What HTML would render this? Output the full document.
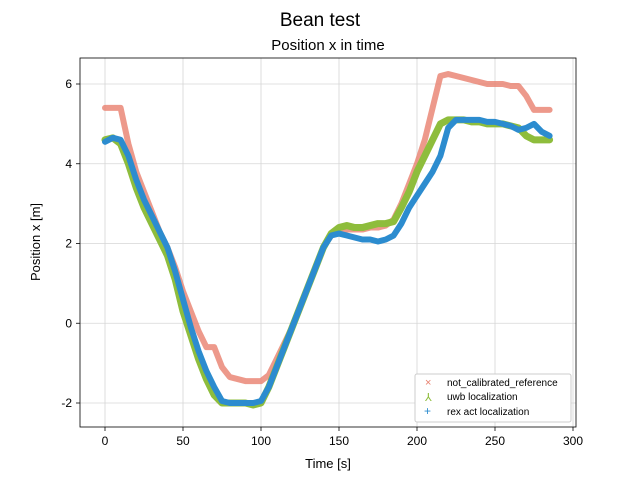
<!DOCTYPE html>
<html><head><meta charset="utf-8"><style>
body{margin:0;background:#fff;}
svg{font-family:"Liberation Sans",sans-serif;display:block}
</style></head><body>
<svg id="c" width="640" height="480">
<text x="320" y="26" text-anchor="middle" font-size="19">Bean test</text>
<text x="328" y="50" text-anchor="middle" font-size="15">Position x in time</text>
<g id="grid"></g><g id="series"></g>
<rect x="80" y="58" width="496" height="369" fill="none" stroke="#000" stroke-width="0.8"/>
<g id="axes"></g>
<text x="328" y="468" text-anchor="middle" font-size="13">Time [s]</text>
<text transform="translate(40,242) rotate(-90)" text-anchor="middle" font-size="13">Position x [m]</text>
<g>
<rect x="415" y="374" width="156" height="48" fill="#fff" stroke="#ccc" rx="2"/>
<text x="425" y="386" fill="#e8806e" font-size="11">×</text>
<text x="447" y="386" font-size="10">not_calibrated_reference</text>
<text x="425" y="401" fill="#8ebd3c" font-size="11">⅄</text>
<text x="447" y="400" font-size="10">uwb localization</text>
<text x="424" y="415" fill="#2c8ccf" font-size="12">+</text>
<text x="447" y="415" font-size="10">rex act localization</text>
</g>
</svg>
<script>
const times=[0,5,10,15,20,25,30,35,40,45,50,55,60,65,70,75,80,85,90,95,100,105,110,115,120,125,130,135,140,145,150,155,160,165,170,175,180,185,190,195,200,205,210,215,220,225,230,235,240,245,250,255,260,265,270,275,280,285];
const refValues=[5.4,5.4,5.4,4.5,3.8,3.3,2.8,2.3,1.9,1.4,0.8,0.3,-0.2,-0.6,-0.6,-1.1,-1.35,-1.4,-1.45,-1.45,-1.45,-1.3,-0.9,-0.5,-0.1,0.4,0.9,1.4,1.9,2.2,2.3,2.35,2.35,2.35,2.4,2.4,2.45,2.6,3.0,3.5,4.0,4.6,5.4,6.2,6.25,6.2,6.15,6.1,6.05,6.0,6.0,6.0,5.95,5.95,5.7,5.35,5.35,5.35];
const uwbValues=[4.6,4.65,4.5,4.0,3.4,2.9,2.5,2.1,1.7,1.1,0.3,-0.3,-0.9,-1.4,-1.8,-2.0,-2.0,-2.0,-2.0,-2.05,-2.0,-1.6,-1.1,-0.6,-0.1,0.4,0.9,1.4,1.9,2.25,2.4,2.45,2.4,2.4,2.45,2.5,2.5,2.55,2.9,3.3,3.8,4.2,4.6,5.0,5.1,5.1,5.1,5.05,5.05,5.0,5.0,5.0,4.95,4.9,4.7,4.6,4.6,4.6];
const rexValues=[4.55,4.65,4.6,4.2,3.6,3.1,2.7,2.3,1.9,1.3,0.6,-0.1,-0.7,-1.2,-1.6,-1.95,-2.0,-2.0,-2.0,-2.0,-1.95,-1.6,-1.1,-0.6,-0.1,0.4,0.9,1.4,1.9,2.2,2.25,2.2,2.15,2.1,2.1,2.05,2.1,2.2,2.5,2.9,3.2,3.5,3.8,4.2,4.9,5.1,5.1,5.1,5.1,5.05,5.05,5.0,4.95,4.85,4.9,5.0,4.8,4.7];
const xTicks=[0,50,100,150,200,250,300];
const yTicks=[-2,0,2,4,6];
const NS="http://www.w3.org/2000/svg";
function xs(v){return 105+v*(573-105)/300;}
function ys(v){return 403-(v+2)*(403-84)/8;}
const grid=document.getElementById('grid'),axes=document.getElementById('axes'),ser=document.getElementById('series');
function mk(t,a,p){const e=document.createElementNS(NS,t);for(const k in a)e.setAttribute(k,a[k]);p.appendChild(e);return e;}
xTicks.forEach(t=>{const x=xs(t);
const g=mk('line',{x1:x,x2:x,y1:58,y2:427,stroke:'#d6d6d6','stroke-width':0.8},grid);


mk('line',{x1:x,x2:x,y1:427,y2:431,stroke:'#000','stroke-width':0.8},axes);
const tx=mk('text',{x:x,y:445,'text-anchor':'middle','font-size':12},axes);tx.textContent=t;

});
yTicks.forEach(t=>{const y=ys(t);
const g=mk('line',{x1:80,x2:576,y1:y,y2:y,stroke:'#d6d6d6','stroke-width':0.8},grid);


mk('line',{x1:76,x2:80,y1:y,y2:y,stroke:'#000','stroke-width':0.8},axes);
const tx=mk('text',{x:72,y:y+4,'text-anchor':'end','font-size':12},axes);tx.textContent=t;

});
function series(vals,color,w,name,op){
const pts=times.map((t,i)=>xs(t)+','+ys(vals[i])).join(' ');
const p=mk('polyline',{points:pts,fill:'none',stroke:color,'stroke-width':w,'stroke-linejoin':'round','stroke-linecap':'round',opacity:op},ser);

}
series(refValues,'#e8806e',6,'reference-series',0.8);
series(uwbValues,'#8ebd3c',7,'uwb-series',1);
series(rexValues,'#2c8ccf',6,'rex-series',1);
</script>
</body></html>
